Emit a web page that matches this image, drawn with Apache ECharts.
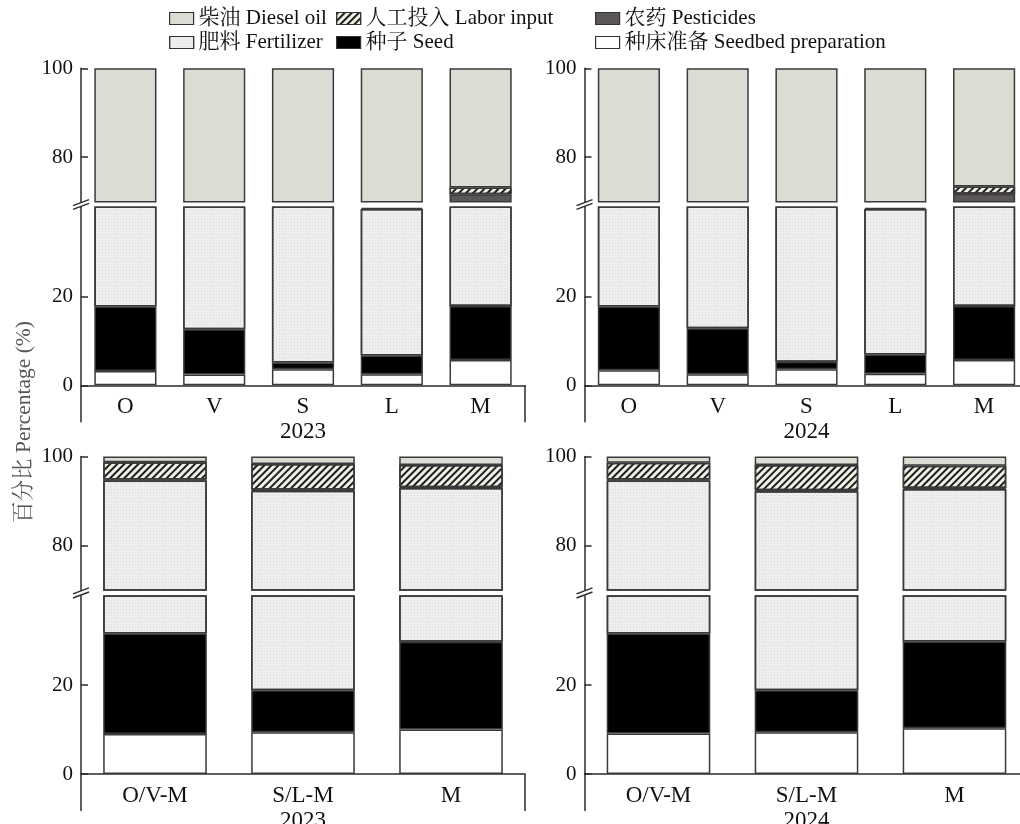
<!DOCTYPE html>
<html>
<head>
<meta charset="utf-8">
<script src="https://cdn.jsdelivr.net/npm/echarts@6/dist/echarts.min.js"></script>
<style>
html,body{margin:0;padding:0;background:#fff;}
#main{width:1020px;height:824px;}
</style>
</head>
<body>
<div id="main"></div>
<script>
// ---------------- DATA ----------------
const catsSingle = ['O', 'V', 'S', 'L', 'M'];
const catsRotation = ['O/V-M', 'S/L-M', 'M'];
const years = ['2023', '2024'];
const seriesNames = ['种床准备 Seedbed preparation', '种子 Seed', '肥料 Fertilizer', '农药 Pesticides', '人工投入 Labor input', '柴油 Diesel oil'];
const yTicksUpper = [80, 100];
const yTicksLower = [0, 20];

// single crops, 2023 (O, V, S, L, M) – percentage of each input
const seedbed2023A   = [3.2, 2.4, 3.6, 2.5, 5.7];
const seed2023A      = [14.5, 10.2, 1.5, 4.2, 12.1];
const fertilizer2023A = [34.3, 35.4, 49.9, 32.9, 47.2];
const pesticides2023A = [0.5, 0.5, 0.4, 0.3, 6.7];
const labor2023A     = [0.8, 0.9, 0.7, 0.4, 1.5];
const diesel2023A    = [46.7, 50.6, 43.9, 59.7, 26.8];

// single crops, 2024
const seedbed2024A   = [3.4, 2.5, 3.6, 2.6, 5.7];
const seed2024A      = [14.3, 10.3, 1.7, 4.3, 12.1];
const fertilizer2024A = [34.3, 35.2, 49.7, 32.7, 47.2];
const pesticides2024A = [0.5, 0.5, 0.4, 0.3, 6.8];
const labor2024A     = [0.8, 0.9, 0.7, 0.4, 1.6];
const diesel2024A    = [46.7, 50.6, 43.9, 59.7, 26.6];

// rotations, 2023 (O/V-M, S/L-M, M)
const seedbed2023B   = [9.0, 9.4, 10.0];
const seed2023B      = [22.6, 9.4, 19.7];
const fertilizer2023B = [63.0, 73.5, 63.2];
const pesticides2023B = [0.2, 0.2, 0.2];
const labor2023B     = [3.9, 5.8, 5.0];
const diesel2023B    = [1.3, 1.7, 1.9];

// rotations, 2024
const seedbed2024B   = [9.1, 9.4, 10.3];
const seed2024B      = [22.5, 9.4, 19.5];
const fertilizer2024B = [63.0, 73.4, 62.9];
const pesticides2024B = [0.2, 0.2, 0.2];
const labor2024B     = [3.8, 5.7, 5.0];
const diesel2024B    = [1.4, 1.9, 2.1];

// ---------------- LAYOUT / STYLE ----------------
const FONT = "'Liberation Serif','Noto Serif CJK SC','Noto Sans CJK SC',serif";
const AX = '#2b2b2b';
const BORDER = '#3a3a3a';
const layout = [
  {left: 81,  upTop: 68.3,  lowTop: 207.3, width: 444},
  {left: 584.5, upTop: 68.3,  lowTop: 207.3, width: 444},
  {left: 81,  upTop: 456.5, lowTop: 596,   width: 444},
  {left: 584.5, upTop: 456.5, lowTop: 596,   width: 444}
];
const UP_H = 133.4, LOW_H = 178;

const fills = [
  {color: '#ffffff'},
  {color: '#000000'},
  {color: '#eeeeee', decal: {symbol: 'rect', symbolSize: 1, dashArrayX: [1, 2], dashArrayY: [1, 2], color: '#d9d9d9'}},
  {color: '#5b5756'},
  {color: '#eef0e6', decal: {symbol: 'rect', symbolSize: 1, dashArrayX: [1, 0], dashArrayY: [1.6, 2.6], rotation: -Math.PI / 4, color: '#1e1e1e'}},
  {color: '#dcdcd5'}
];

const panels = [
  {cats: catsSingle, year: years[0], vals: [seedbed2023A, seed2023A, fertilizer2023A, pesticides2023A, labor2023A, diesel2023A]},
  {cats: catsSingle, year: years[1], vals: [seedbed2024A, seed2024A, fertilizer2024A, pesticides2024A, labor2024A, diesel2024A]},
  {cats: catsRotation, year: years[0], vals: [seedbed2023B, seed2023B, fertilizer2023B, pesticides2023B, labor2023B, diesel2023B]},
  {cats: catsRotation, year: years[1], vals: [seedbed2024B, seed2024B, fertilizer2024B, pesticides2024B, labor2024B, diesel2024B]}
];

const grid = [], xAxis = [], yAxis = [], series = [], graphic = [];
const labelStyle = {color: '#111', fontFamily: FONT, fontSize: 21};

panels.forEach((p, i) => {
  const L = layout[i];
  const gUp = 2 * i, gLow = 2 * i + 1;
  grid.push({left: L.left, top: L.upTop, width: L.width, height: UP_H, outerBoundsMode: 'none', containLabel: false});
  grid.push({left: L.left, top: L.lowTop, width: L.width, height: LOW_H, outerBoundsMode: 'none', containLabel: false});
  // x axes
  xAxis.push({gridIndex: gUp, type: 'category', data: p.cats, show: false});
  xAxis.push({gridIndex: gLow, type: 'category', data: p.cats, position: 'bottom',
    axisLine: {lineStyle: {color: AX, width: 1.5}}, axisTick: {show: false},
    axisLabel: {margin: 10, fontSize: 23, color: '#111', fontFamily: FONT}});
  xAxis.push({gridIndex: gLow, type: 'category', data: [p.year], position: 'bottom', offset: 0,
    axisLine: {show: false}, axisTick: {show: true, length: 37, lineStyle: {color: AX, width: 1.5}},
    axisLabel: {margin: 35, fontSize: 23, color: '#111', fontFamily: FONT}});
  // y axes
  yAxis.push({gridIndex: gUp, type: 'value', min: 70, max: 100, splitLine: {show: false},
    axisLine: {show: true, lineStyle: {color: AX, width: 1.5}},
    axisTick: {show: true, inside: true, length: 7, customValues: yTicksUpper, lineStyle: {color: AX, width: 1.5}},
    axisLabel: Object.assign({margin: 8, customValues: yTicksUpper}, labelStyle)});
  yAxis.push({gridIndex: gLow, type: 'value', min: 0, max: 40, splitLine: {show: false},
    axisLine: {show: true, lineStyle: {color: AX, width: 1.5}},
    axisTick: {show: true, inside: true, length: 7, customValues: yTicksLower, lineStyle: {color: AX, width: 1.5}},
    axisLabel: Object.assign({margin: 8, customValues: yTicksLower}, labelStyle)});
  [gUp, gLow].forEach((g, j) => {
    const xIdx = j === 0 ? 3 * i : 3 * i + 1;
    p.vals.forEach((arr, k) => {
      series.push({
        type: 'bar', name: seriesNames[k], xAxisIndex: xIdx, yAxisIndex: g,
        stack: 'st' + g, data: arr, barWidth: '70%', clip: true, silent: true,
        itemStyle: Object.assign({borderColor: BORDER, borderWidth: 1.5}, fills[k])
      });
    });
  });
  // axis-break marks "//"
  const yb1 = L.upTop + UP_H, yb2 = L.lowTop;
  [yb1 + 1, yb2 - 1].forEach(y => {
    graphic.push({type: 'line', shape: {x1: L.left - 8, y1: y + 3, x2: L.left + 8, y2: y - 3},
      style: {stroke: AX, lineWidth: 1.4}, z: 100});
  });
});

graphic.push({type: 'text', x: 24, y: 422, rotation: Math.PI / 2,
  style: {text: '百分比 Percentage (%)', fill: '#555', font: "21.5px " + FONT, textAlign: 'center', textVerticalAlign: 'middle'}});

const legendBase = {orient: 'vertical', top: 8, itemWidth: 24, itemHeight: 12, itemGap: 3, padding: 0,
  selectedMode: false, icon: 'rect',
  itemStyle: {borderColor: '#333', borderWidth: 1.2},
  textStyle: {fontSize: 21, color: '#111', fontFamily: FONT}};
const legend = [
  Object.assign({left: 169, data: [seriesNames[5], seriesNames[2]]}, legendBase),
  Object.assign({left: 336, data: [seriesNames[4], seriesNames[1]]}, legendBase),
  Object.assign({left: 595, data: [seriesNames[3], seriesNames[0]]}, legendBase)
];

const chart = echarts.init(document.getElementById('main'), null, {renderer: 'canvas'});
chart.setOption({
  animation: false,
  backgroundColor: '#fff',
  textStyle: {fontFamily: FONT},
  legend, grid, xAxis, yAxis, series, graphic
});
</script>
</body>
</html>
